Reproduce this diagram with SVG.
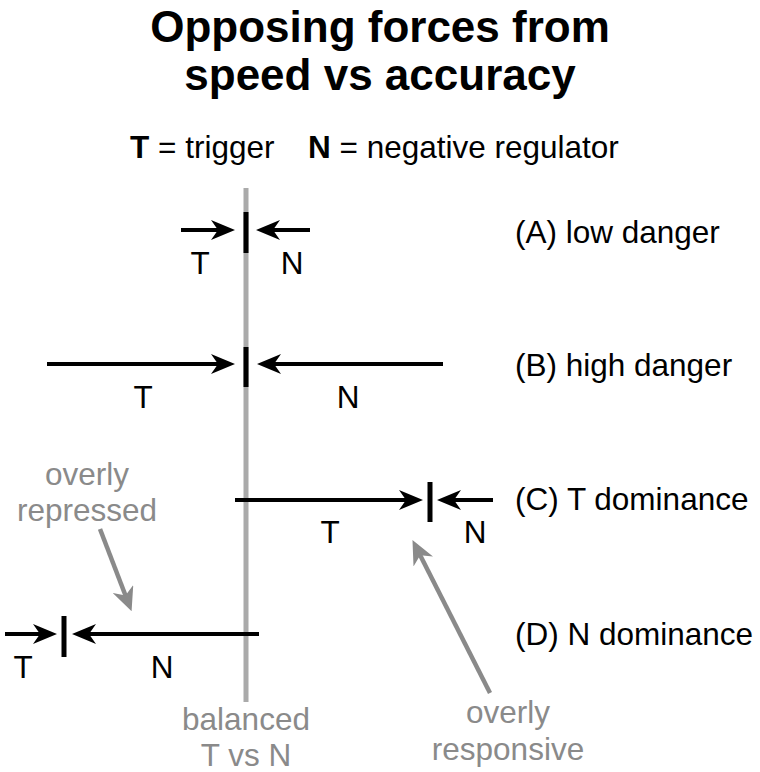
<svg xmlns="http://www.w3.org/2000/svg" width="760" height="772" viewBox="0 0 760 772">
<style>
text{font-family:"Liberation Sans",Arial,sans-serif}
.t{font-size:44px;font-weight:bold;fill:#000;text-anchor:middle}
.lg{font-size:31.5px;fill:#000}
.lb{font-size:31.5px;fill:#000;text-anchor:middle}
.rl{font-size:31.5px;fill:#000}
.g{font-size:31.5px;fill:#8a8a8a;text-anchor:middle}
.ar{stroke:#000;stroke-width:4;fill:none;marker-end:url(#ah)}
.tick{stroke:#000;stroke-width:5}
.ga{stroke:#8a8a8a;stroke-width:4.5;fill:none;marker-end:url(#gh)}
</style>
<defs>
<marker id="ah" viewBox="0 0 24 20" refX="14" refY="10" markerWidth="24" markerHeight="20" markerUnits="userSpaceOnUse" orient="auto">
<path d="M0,0 L24,10 L0,20 L7,10 Z" fill="#000"/>
</marker>
<marker id="gh" viewBox="0 0 24 22" refX="14" refY="11" markerWidth="24" markerHeight="22" markerUnits="userSpaceOnUse" orient="auto">
<path d="M0,0 L24,11 L0,22 L7,11 Z" fill="#8a8a8a"/>
</marker>
</defs>
<g id="title">
<text class="t" x="380" y="42">Opposing forces from</text>
<text class="t" x="380" y="90">speed vs accuracy</text>
</g>
<g id="legend">
<text class="lg" x="130" y="158"><tspan font-weight="bold">T</tspan> = trigger<tspan x="308" font-weight="bold">N</tspan> = negative regulator</text>
</g>
<g id="balanced">
<line x1="246" y1="188" x2="246" y2="702" stroke="#aaaaaa" stroke-width="5"/>
<text class="g" x="246" y="730">balanced</text>
<text class="g" x="246" y="766">T vs N</text>
</g>
<g id="connectors">
<line class="ar" x1="181" y1="230" x2="225" y2="230"/>
<line class="ar" x1="310" y1="230" x2="266" y2="230"/>
<line class="tick" x1="246" y1="212" x2="246" y2="253"/>
<line class="ar" x1="47" y1="364" x2="225" y2="364"/>
<line class="ar" x1="443" y1="364" x2="267" y2="364"/>
<line class="tick" x1="246" y1="347" x2="246" y2="387"/>
<line class="ar" x1="235" y1="500" x2="413" y2="500"/>
<line class="ar" x1="493" y1="500" x2="447" y2="500"/>
<line class="tick" x1="430" y1="482" x2="430" y2="522"/>
<line class="ar" x1="5" y1="634" x2="47" y2="634"/>
<line class="ar" x1="259" y1="634" x2="82" y2="634"/>
<line class="tick" x1="64" y1="616" x2="64" y2="657"/>
<line class="ga" x1="100" y1="529" x2="128" y2="602"/>
<line class="ga" x1="490" y1="693" x2="417" y2="549"/>
</g>
<g id="rowA">
<text class="lb" x="200" y="274">T</text>
<text class="lb" x="292" y="274">N</text>
<text class="rl" x="515" y="243">(A) low danger</text>
</g>
<g id="rowB">
<text class="lb" x="143" y="408">T</text>
<text class="lb" x="348" y="408">N</text>
<text class="rl" x="515" y="376">(B) high danger</text>
</g>
<g id="rowC">
<text class="lb" x="330" y="543">T</text>
<text class="lb" x="475" y="543">N</text>
<text class="rl" x="515" y="510">(C) T dominance</text>
</g>
<g id="rowD">
<text class="lb" x="23" y="678">T</text>
<text class="lb" x="162" y="678">N</text>
<text class="rl" x="515" y="645">(D) N dominance</text>
</g>
<g id="overly-repressed">
<text class="g" x="87" y="485">overly</text>
<text class="g" x="87" y="521">repressed</text>
</g>
<g id="overly-responsive">
<text class="g" x="508" y="723">overly</text>
<text class="g" x="508" y="760">responsive</text>
</g>
</svg>
